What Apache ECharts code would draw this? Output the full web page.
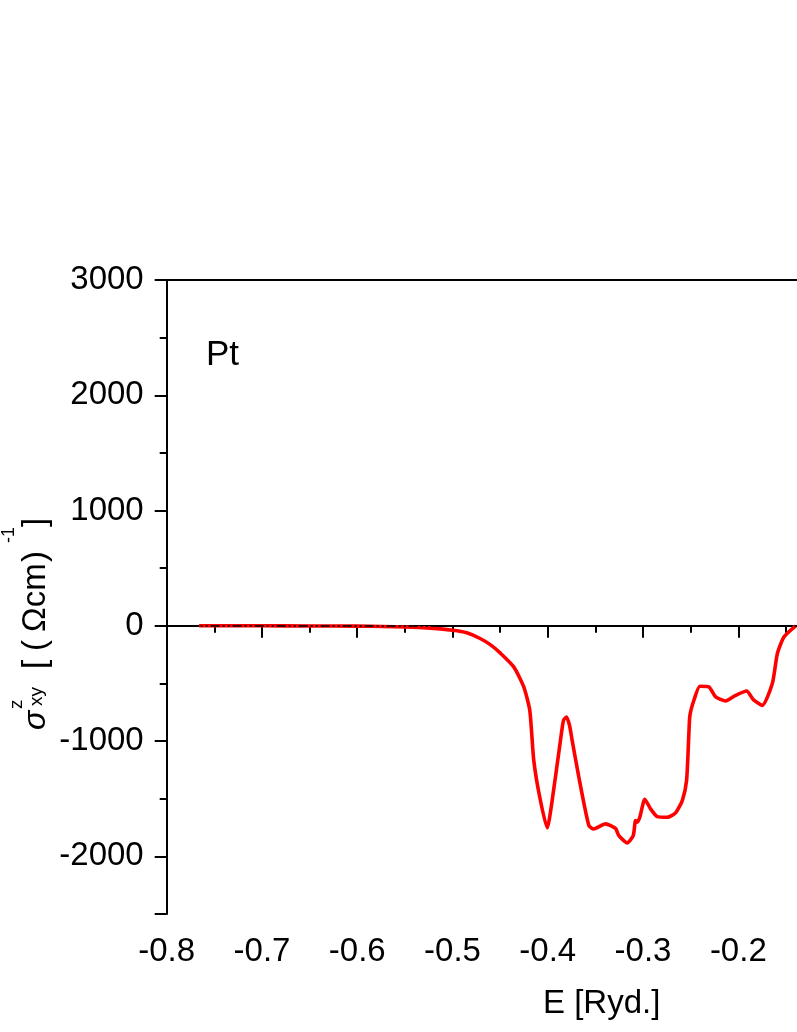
<!DOCTYPE html>
<html>
<head>
<meta charset="utf-8">
<script src="https://cdn.jsdelivr.net/npm/echarts@6/dist/echarts.min.js"></script>
<style>
  html, body { margin: 0; padding: 0; background: #fff; }
  #chart { width: 797px; height: 1032px; }
</style>
</head>
<body>
<div id="chart"></div>
<script>
// energies (Ryd.) and Hall conductivity sigma^z_xy ((Ohm cm)^-1)
const energy = [
  -0.766, -0.70, -0.65, -0.60, -0.573, -0.55, -0.527, -0.50, -0.485, -0.471,
  -0.46, -0.45, -0.4357, -0.4252, -0.4189, -0.4147, -0.4084, -0.4006, -0.3954, -0.3867,
  -0.3835, -0.3804, -0.3772, -0.3744, -0.3674, -0.3569, -0.3517, -0.3394, -0.3289, -0.3254,
  -0.3166, -0.3103, -0.3079, -0.3061, -0.3034, -0.2981, -0.2921, -0.2851, -0.2746, -0.2659,
  -0.2588, -0.2543, -0.2519, -0.2508, -0.2466, -0.2403, -0.2309, -0.2238, -0.2133, -0.2028,
  -0.1913, -0.1842, -0.1748, -0.1643, -0.1590, -0.1521, -0.1398
]
const sigma = [
  0, 0, -1, -3, -6, -10, -18, -38, -60, -110,
  -165, -235, -356, -530, -733, -1168, -1487, -1753, -1516, -994,
  -820, -791, -863, -994, -1313, -1733, -1762, -1718, -1757, -1820,
  -1883, -1820, -1690, -1704, -1661, -1504, -1588, -1655, -1661, -1623,
  -1516, -1342, -936, -777, -646, -524, -530, -617, -652, -603,
  -565, -640, -690, -501, -240, -96, 0
]

const xMin = -0.8
const xMax = -0.1384
const yMin = -2500
const yMax = 3000
const xMajorTicks = [-0.8, -0.7, -0.6, -0.5, -0.4, -0.3, -0.2]
const xMinorTicks = [-0.75, -0.65, -0.55, -0.45, -0.35, -0.25, -0.15]
const yMajorTicks = [-2500, -2000, -1000, 0, 1000, 2000, 3000]
const yLabelTicks = [-2000, -1000, 0, 1000, 2000, 3000]
const yMinorTicks = [-1500, -500, 500, 1500, 2500]

const font = "'Liberation Sans', Arial, sans-serif"
const black = '#000'

const chart = echarts.init(document.getElementById('chart'), null, { renderer: 'canvas' })

const hiddenAxis = {
  axisLine: { show: false },
  axisLabel: { show: false },
  splitLine: { show: false }
}

chart.setOption({
  animation: false,
  backgroundColor: '#fff',
  grid: { left: 166.7, right: 0, top: 280, bottom: 118, containLabel: false },
  xAxis: [
    {
      type: 'value', position: 'bottom', min: xMin, max: xMax,
      axisLine: { lineStyle: { color: black, width: 2 } },
      axisTick: { inside: false, length: 12, customValues: xMajorTicks, lineStyle: { color: black, width: 2 } },
      axisLabel: {
        customValues: xMajorTicks, margin: 21, color: black, fontSize: 33, fontFamily: font,
        formatter: v => v.toFixed(1)
      },
      splitLine: { show: false }
    },
    {
      type: 'value', position: 'bottom', min: xMin, max: xMax, ...hiddenAxis,
      axisTick: { inside: false, length: 7, customValues: xMinorTicks, lineStyle: { color: black, width: 2 } }
    },
    {
      type: 'value', position: 'top', min: xMin, max: xMax, ...hiddenAxis,
      axisLine: { show: true, lineStyle: { color: black, width: 2 } },
      axisTick: { show: false }
    }
  ],
  yAxis: [
    {
      type: 'value', position: 'left', min: yMin, max: yMax,
      axisLine: { show: true, lineStyle: { color: black, width: 2 } },
      axisTick: { show: true, inside: false, length: 12, customValues: yMajorTicks, lineStyle: { color: black, width: 2 } },
      axisLabel: {
        customValues: yLabelTicks, margin: 23, color: black, fontSize: 33, fontFamily: font,
        formatter: v => String(v)
      },
      splitLine: { show: false }
    },
    {
      type: 'value', position: 'left', min: yMin, max: yMax, ...hiddenAxis,
      axisTick: { show: true, inside: false, length: 7, customValues: yMinorTicks, lineStyle: { color: black, width: 2 } }
    }
  ],
  series: [
    {
      type: 'line',
      xAxisIndex: 0, yAxisIndex: 0,
      data: energy.map((e, i) => [e, sigma[i]]),
      showSymbol: false,
      smooth: 0.2,
      lineStyle: { color: '#ff0000', width: 3.6 },
      z: 3,
      markLine: {
        silent: true,
        symbol: 'none',
        label: { show: false },
        lineStyle: { color: black, width: 1.5, type: [9, 3, 2, 3, 2, 3] },
        data: [{ yAxis: 0 }],
        z: 5
      }
    }
  ],
  graphic: [
    {
      type: 'text', left: 206, top: 338,
      style: { text: 'Pt', fontSize: 35, fontFamily: font, fill: black }
    },
    {
      type: 'text', left: 543, top: 987,
      style: { text: 'E [Ryd.]', fontSize: 33, fontFamily: font, fill: black }
    },
    {
      type: 'group', x: 47, y: 730, rotation: Math.PI / 2,
      children: [
        { type: 'text', x: 0, y: -11, style: { text: 'σ', fontSize: 32, fontStyle: 'italic', fontFamily: font, fill: black, verticalAlign: 'middle' } },
        { type: 'text', x: 21, y: -30.3, style: { text: 'z', fontSize: 19, fontFamily: font, fill: black, verticalAlign: 'middle' } },
        { type: 'text', x: 24, y: -10.3, style: { text: 'xy', fontSize: 19, fontFamily: font, fill: black, verticalAlign: 'middle' } },
        { type: 'text', x: 61, y: -11.5, style: { text: '[', fontSize: 33, fontFamily: font, fill: black, verticalAlign: 'middle' } },
        { type: 'text', x: 79, y: -11.5, style: { text: '(', fontSize: 33, fontFamily: font, fill: black, verticalAlign: 'middle' } },
        { type: 'text', x: 98, y: -11.5, style: { text: 'Ωcm', fontSize: 33, fontFamily: font, fill: black, verticalAlign: 'middle' } },
        { type: 'text', x: 168, y: -11.5, style: { text: ')', fontSize: 33, fontFamily: font, fill: black, verticalAlign: 'middle' } },
        { type: 'text', x: 187, y: -38, style: { text: '-1', fontSize: 18, fontFamily: font, fill: black, verticalAlign: 'middle' } },
        { type: 'text', x: 203, y: -11.5, style: { text: ']', fontSize: 33, fontFamily: font, fill: black, verticalAlign: 'middle' } }
      ]
    }
  ]
})
</script>
</body>
</html>
